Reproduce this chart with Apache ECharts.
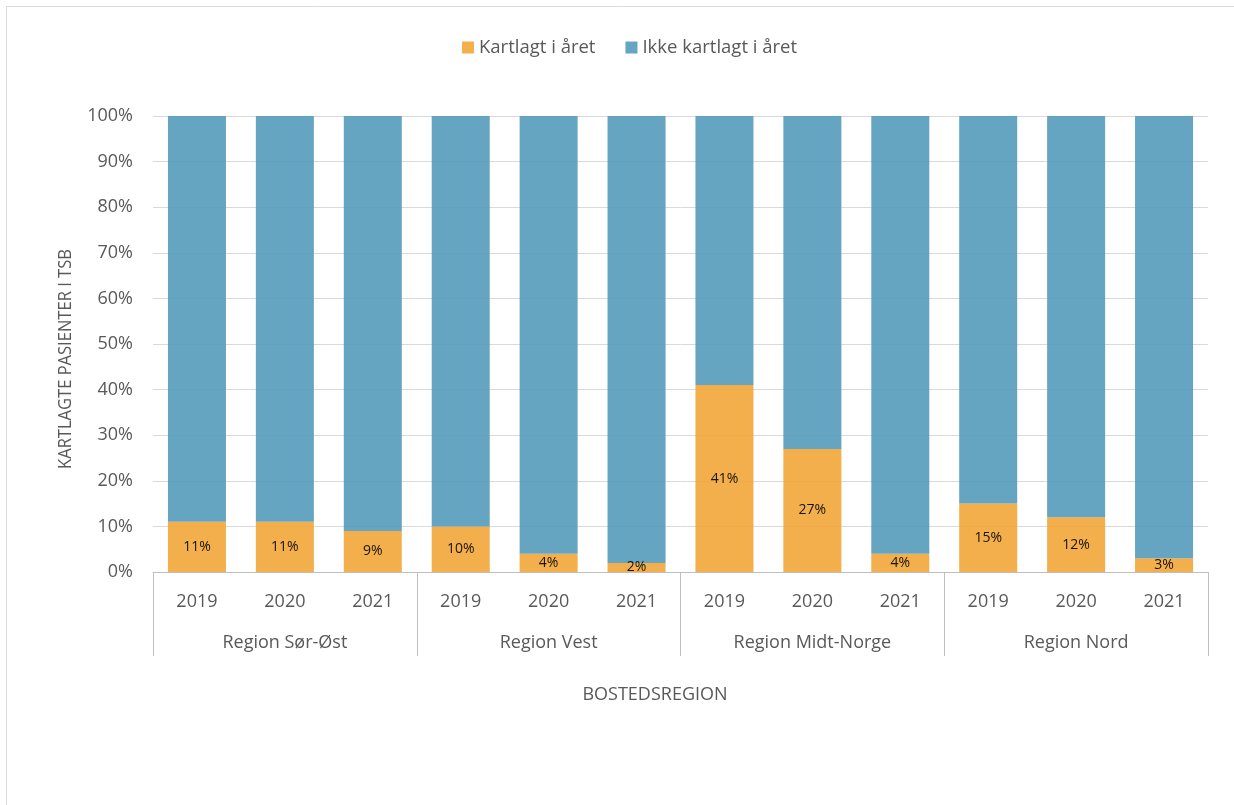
<!DOCTYPE html>
<html>
<head>
<meta charset="utf-8">
<script src="https://cdn.jsdelivr.net/npm/echarts@6/dist/echarts.min.js"></script>
<style>
  html, body { margin: 0; padding: 0; background: #ffffff; }
  #chart { width: 1234px; height: 805px; }
</style>
</head>
<body>
<div id="chart"></div>
<script>
// Share of TSB patients assessed during the year, by home region and year
const years = ['2019', '2020', '2021', '2019', '2020', '2021', '2019', '2020', '2021', '2019', '2020', '2021'];
const regions = ['Region Sør-Øst', 'Region Vest', 'Region Midt-Norge', 'Region Nord'];
const kartlagt = [11, 11, 9, 10, 4, 2, 41, 27, 4, 15, 12, 3];
const ikkeKartlagt = [89, 89, 91, 90, 96, 98, 59, 73, 96, 85, 88, 97];
const yTicks = [0, 10, 20, 30, 40, 50, 60, 70, 80, 90, 100];

const FONT = '"Open Sans", "Noto Sans", sans-serif';
const GREY_TEXT = '#595959';

const chart = echarts.init(document.getElementById('chart'), null, { renderer: 'canvas' });

chart.setOption({
  backgroundColor: '#ffffff',
  animation: false,
  textStyle: { fontFamily: FONT },
  legend: {
    top: 33,
    left: 457,
    itemWidth: 12,
    itemHeight: 12,
    itemGap: 30,
    icon: 'rect',
    textStyle: { fontSize: 18.5, color: GREY_TEXT, fontFamily: FONT },
    data: ['Kartlagt i året', 'Ikke kartlagt i året']
  },
  grid: { left: 153, right: 26, top: 116, bottom: 233, containLabel: false },
  xAxis: [
    {
      type: 'category',
      data: years,
      position: 'bottom',
      axisLine: { show: true, lineStyle: { color: '#bfbfbf', width: 1 } },
      axisTick: { show: false },
      axisLabel: { margin: 21, fontSize: 18, color: GREY_TEXT, fontFamily: FONT, interval: 0 }
    },
    {
      type: 'category',
      data: regions,
      position: 'bottom',
      axisLine: { show: false },
      axisTick: { show: true, length: 84, alignWithLabel: false, lineStyle: { color: '#bfbfbf', width: 1 } },
      axisLabel: { margin: 62, fontSize: 18, color: GREY_TEXT, fontFamily: FONT, interval: 0 },
      splitLine: { show: false }
    }
  ],
  yAxis: {
    type: 'value',
    min: yTicks[0],
    max: yTicks[yTicks.length - 1],
    interval: 10,
    axisLine: { show: false },
    axisTick: { show: false },
    axisLabel: { formatter: '{value}%', fontSize: 18, color: GREY_TEXT, fontFamily: FONT, margin: 20 },
    splitLine: { show: true, lineStyle: { color: '#d9d9d9', width: 1 } }
  },
  series: [
    {
      name: 'Kartlagt i året',
      type: 'bar',
      stack: 'total',
      xAxisIndex: 0,
      barCategoryGap: '34%',
      data: kartlagt,
      itemStyle: { color: 'rgb(241,166,55)', opacity: 0.9 },
      label: {
        show: true,
        position: 'inside',
        formatter: '{c}%',
        fontSize: 14,
        color: '#000000',
        fontFamily: FONT
      }
    },
    {
      name: 'Ikke kartlagt i året',
      type: 'bar',
      stack: 'total',
      xAxisIndex: 0,
      barCategoryGap: '34%',
      data: ikkeKartlagt,
      itemStyle: { color: 'rgb(85,155,187)', opacity: 0.9 }
    }
  ],
  graphic: [
    {
      type: 'rect',
      shape: { x: 6.5, y: 6.5, width: 1260, height: 810 },
      style: { fill: 'none', stroke: '#d9d9d9', lineWidth: 1 },
      silent: true,
      z: -10
    },
    {
      type: 'text',
      x: 66,
      y: 359,
      rotation: Math.PI / 2,
      scaleX: 0.87,
      style: {
        text: 'KARTLAGTE PASIENTER I TSB',
        fontSize: 19,
        fontFamily: FONT,
        fill: GREY_TEXT,
        align: 'center',
        verticalAlign: 'middle'
      }
    },
    {
      type: 'text',
      x: 655,
      y: 695,
      style: {
        text: 'BOSTEDSREGION',
        fontSize: 18,
        fontFamily: FONT,
        fill: GREY_TEXT,
        align: 'center',
        verticalAlign: 'middle'
      }
    }
  ]
});
</script>
</body>
</html>
